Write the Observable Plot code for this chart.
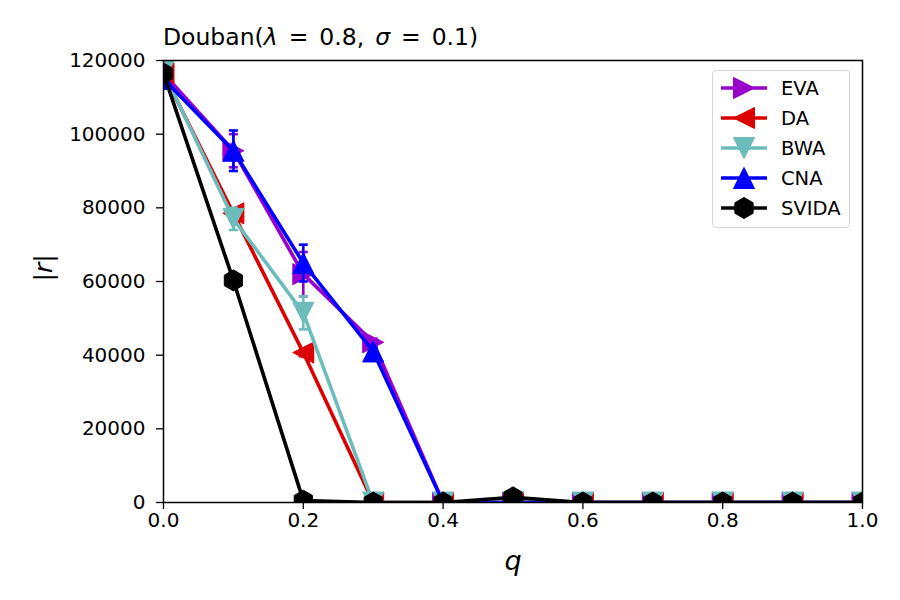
<!DOCTYPE html>
<html>
<head>
<meta charset="utf-8">
<script src="https://cdn.jsdelivr.net/npm/d3@7"></script>
<script src="https://cdn.jsdelivr.net/npm/@observablehq/plot@0.6"></script>
<style>
  body { margin: 0; background: #fff; font-family: "DejaVu Sans", sans-serif; }
  #wrap { position: relative; width: 900px; height: 600px; overflow: hidden; }
  #title { position: absolute; left: 163px; top: 24px; font-size: 23.5px; line-height: 1.164; white-space: nowrap; color: #000; word-spacing: 3.5px; }
  #chart { position: absolute; left: 0; top: 50px; }
  #legend { position: absolute; left: 712px; top: 70px; width: 138px; height: 158px; border: 1.5px solid #d6d6d6; border-radius: 4px; background: rgba(255,255,255,0.8); box-sizing: border-box; }
  .row { position: absolute; left: 0; height: 30px; display: flex; align-items: center; }
  .row span { font-size: 19.5px; margin-left: 10px; }
</style>
</head>
<body>
<div id="wrap">
  <div id="title">Douban(<i>λ</i> = 0.8, <i>σ</i> = 0.1)</div>
  <div id="chart"></div>
  <div id="legend"></div>
</div>
<script>
// ---- data ----
const q = [0, 0.1, 0.2, 0.3, 0.4, 0.5, 0.6, 0.7, 0.8, 0.9, 1.0];
const seriesNames = ["EVA", "DA", "BWA", "CNA", "SVIDA"];
const eva   = [116500, 95500, 62000, 43500, 0, 0, 0, 0, 0, 0, 0];
const da    = [116500, 78500, 40700, 0, 0, 0, 0, 0, 0, 0, 0];
const bwa   = [117000, 77000, 51500, 0, 0, 0, 0, 0, 0, 0, 0];
const cna   = [115000, 95500, 65000, 41000, 0, 0, 0, 0, 0, 0, 0];
const svida = [116500, 60300, 500, 0, 0, 1400, 0, 0, 0, 0, 0];
const evaErr   = [0, 4500, 6000, 1000, 0, 0, 0, 0, 0, 0, 0];
const daErr    = [0, 1000, 1000, 0, 0, 0, 0, 0, 0, 0, 0];
const bwaErr   = [0, 3000, 4500, 0, 0, 0, 0, 0, 0, 0, 0];
const cnaErr   = [0, 5500, 5000, 1000, 0, 0, 0, 0, 0, 0, 0];
const svidaErr = [0, 0, 0, 0, 0, 0, 0, 0, 0, 0, 0];
const yTicks = [0, 20000, 40000, 60000, 80000, 100000, 120000];
const xTicks = [0, 0.2, 0.4, 0.6, 0.8, 1.0];
const colors = ["#9900cc", "#dd0000", "#6cbcbc", "#0000ff", "#000000"];

const values = [eva, da, bwa, cna, svida];
const errs = [evaErr, daErr, bwaErr, cnaErr, svidaErr];

// ---- symbols ----
function poly(pts) {
  return {
    draw(ctx, size) {
      const s = Math.sqrt(size / Math.PI);
      pts.forEach(([a, b], i) => i ? ctx.lineTo(a * s, b * s) : ctx.moveTo(a * s, b * s));
      ctx.closePath();
    }
  };
}
const hexPts = d3.range(6).map(k => {
  const a = -Math.PI / 2 + k * Math.PI / 3;
  return [Math.cos(a), Math.sin(a)];
});
const symbols = [
  poly([[1, 0], [-1, -1], [-1, 1]]),   // right
  poly([[-1, 0], [1, -1], [1, 1]]),    // left
  poly([[0, 1], [-1, -1], [1, -1]]),   // down
  poly([[0, -1], [-1, 1], [1, 1]]),    // up
  poly(hexPts)                         // hexagon
];
const capSym = {
  draw(ctx, size) {
    const s = Math.sqrt(size / Math.PI);
    ctx.moveTo(-s, 0); ctx.lineTo(s, 0);
  }
};

// ---- marks ----
const marks = [];
seriesNames.forEach((name, i) => {
  const rows = q.map((x, j) => ({q: x, v: values[i][j], e: errs[i][j]}));
  const errRows = rows.filter(d => d.e > 0);
  marks.push(
    Plot.line(rows, {x: "q", y: "v", stroke: colors[i], strokeWidth: 3.6, clip: "frame"}),
    Plot.ruleX(errRows, {x: "q", y1: d => d.v - d.e, y2: d => d.v + d.e, stroke: colors[i], strokeWidth: 2.6, clip: "frame"}),
    Plot.dot(errRows, {x: "q", y: d => d.v - d.e, symbol: capSym, r: 4.5, stroke: colors[i], strokeWidth: 2.6, clip: "frame"}),
    Plot.dot(errRows, {x: "q", y: d => d.v + d.e, symbol: capSym, r: 4.5, stroke: colors[i], strokeWidth: 2.6, clip: "frame"}),
    Plot.dot(rows, {x: "q", y: "v", symbol: symbols[i], r: 10.5, fill: colors[i], stroke: colors[i], strokeWidth: 1, clip: "frame"})
  );
});

const plot = Plot.plot({
  width: 900,
  height: 550,
  marginTop: 10,
  marginBottom: 98,
  marginLeft: 163,
  marginRight: 38,
  style: {fontFamily: "DejaVu Sans", background: "#fff", overflow: "visible"},
  x: {domain: [0, 1]},
  y: {domain: [0, 120000]},
  marks: [
    ...marks,
    Plot.frame({stroke: "#000", strokeWidth: 1.5}),
    Plot.axisX({ticks: xTicks, tickFormat: d3.format(".1f"), tickSize: 7, tickPadding: 3, fontSize: 20, label: null, stroke: "#000", strokeWidth: 1.3}),
    Plot.axisY({ticks: yTicks, tickFormat: d => String(d), tickSize: 7, tickPadding: 11, fontSize: 20, label: null, stroke: "#000", strokeWidth: 1.3}),
    Plot.text(["q"], {frameAnchor: "bottom", dy: 67, text: d => d, fontSize: 27, fontStyle: "italic", fill: "#000"}),
    Plot.text(["|r|"], {frameAnchor: "left", dx: -120, rotate: -90, text: d => d, fontSize: 25, fill: "#000", className: "ylab"})
  ]
});
document.getElementById("chart").appendChild(plot);

// make the r italic in |r|
d3.select(plot).selectAll("g.ylab text").each(function() {
  const t = d3.select(this);
  t.text(null);
  t.append("tspan").text("|");
  t.append("tspan").attr("font-style", "italic").text("r");
  t.append("tspan").text("|");
});

// ---- legend ----
const legend = document.getElementById("legend");
seriesNames.forEach((name, i) => {
  const row = document.createElement("div");
  row.className = "row";
  row.style.top = (2 + i * 30) + "px";
  const svg = d3.create("svg").attr("width", 54).attr("height", 30).style("margin-left", "4px");
  svg.append("line").attr("x1", 4).attr("x2", 50).attr("y1", 15).attr("y2", 15)
    .attr("stroke", colors[i]).attr("stroke-width", 3.6);
  const p = d3.path();
  symbols[i].draw(p, Math.PI * 10.5 * 10.5);
  svg.append("path").attr("d", p.toString()).attr("transform", "translate(27,15)")
    .attr("fill", colors[i]).attr("stroke", colors[i]);
  row.appendChild(svg.node());
  const lab = document.createElement("span");
  lab.textContent = name;
  row.appendChild(lab);
  legend.appendChild(row);
});
</script>
</body>
</html>
